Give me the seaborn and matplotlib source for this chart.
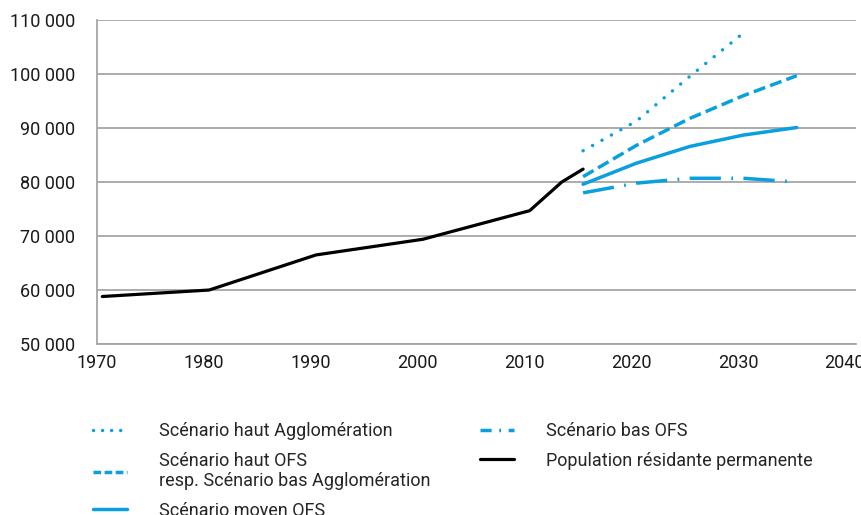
import matplotlib
matplotlib.use("Agg")
import matplotlib.pyplot as plt
from matplotlib.lines import Line2D
from matplotlib.ticker import FuncFormatter, MultipleLocator
import seaborn as sns

# population résidante permanente (observed)
years_obs = [1970.5, 1980.5, 1990.5, 2000.5, 2010.5, 2013.5, 2015.5]
pop_obs = [58800, 60000, 66500, 69400, 74700, 80000, 82400]

# scenarios
years_proj = [2015.5, 2020.5, 2025.5, 2030.5, 2035.5]
haut_agglo = [85800, 91300, 99600, 107600]
haut_ofs = [81000, 86800, 91800, 96000, 99700]
moyen_ofs = [79600, 83500, 86600, 88700, 90100]
bas_ofs = [78000, 79800, 80700, 80700, 80000]

labels = [
    "Scénario haut Agglomération",
    "Scénario haut OFS\nresp. Scénario bas Agglomération",
    "Scénario moyen OFS",
    "Scénario bas OFS",
    "Population résidante permanente",
]

BLUE = "#0a9fdf"
DOT = (0, (0.01, 3.1))
DASH = (0, (3.5, 1.5))
DASHDOT = (0, (9, 3.0, 0.5, 3.0))

sns.set_style("white")
plt.rcParams["font.family"] = ["Roboto", "DejaVu Sans"]

fig = plt.figure(figsize=(8.62, 5.15), dpi=100)
ax = fig.add_axes([0.1125, 0.332, 0.88, 0.629])

sns.lineplot(x=years_proj[:4], y=haut_agglo, ax=ax, color=BLUE, lw=2.5,
             linestyle=DOT, dash_capstyle="round")
sns.lineplot(x=years_proj, y=haut_ofs, ax=ax, color=BLUE, lw=2.5, linestyle=DASH)
sns.lineplot(x=years_proj, y=moyen_ofs, ax=ax, color=BLUE, lw=2.5)
sns.lineplot(x=years_proj, y=bas_ofs, ax=ax, color=BLUE, lw=2.5, linestyle=DASHDOT)
sns.lineplot(x=years_obs, y=pop_obs, ax=ax, color="black", lw=2.3)

ax.set_xlim(1970, 2041)
ax.set_ylim(50000, 110000)
ax.xaxis.set_major_locator(MultipleLocator(10))
ax.xaxis.set_minor_locator(MultipleLocator(5))
ax.yaxis.set_major_locator(MultipleLocator(10000))
ax.yaxis.set_minor_locator(MultipleLocator(5000))
ax.yaxis.set_major_formatter(FuncFormatter(lambda v, p: f"{int(v):,}".replace(",", " ")))
ax.grid(axis="y", which="major", color="#a6a6a6", lw=1.3)
ax.set_axisbelow(True)

for s in ["top", "right"]:
    ax.spines[s].set_visible(False)
for s in ["left", "bottom"]:
    ax.spines[s].set_color("#a6a6a6")
    ax.spines[s].set_linewidth(1.3)

ax.tick_params(axis="both", which="both", direction="out", length=3,
               width=1.2, color="#a6a6a6", labelsize=13, labelcolor="#1a1a1a")
ax.tick_params(axis="y", which="both", pad=13)
ax.tick_params(axis="x", which="major", pad=4)
ax.set_xlabel("")
ax.set_ylabel("")

handles = [
    Line2D([], [], color=BLUE, lw=2.5, linestyle=(0, (0.01, 2.6)), dash_capstyle="round"),
    Line2D([], [], color=BLUE, lw=2.5, linestyle=(0, (2.2, 1.0))),
    Line2D([], [], color=BLUE, lw=2.5),
    Line2D([], [], color=BLUE, lw=2.5, linestyle=(0, (3.2, 2.2, 0.5, 2.2))),
    Line2D([], [], color="black", lw=2.3),
]
fig.legend(handles, labels, loc="upper left", bbox_to_anchor=(0.1, 0.194),
           ncol=2, frameon=False, fontsize=13, handlelength=1.85,
           handletextpad=1.8, columnspacing=2.75, labelspacing=0.62,
           borderaxespad=0)

fig.savefig("out.png", dpi=100)
